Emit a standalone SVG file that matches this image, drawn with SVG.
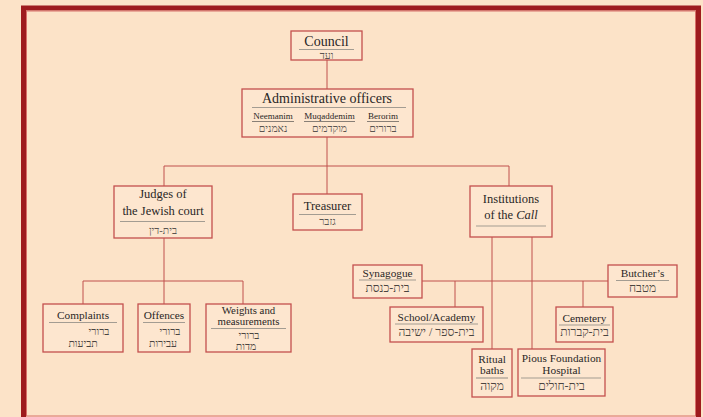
<svg xmlns="http://www.w3.org/2000/svg" width="703" height="417" viewBox="0 0 703 417">
<style>
.box{fill:#fde6cf;stroke:#c4504e;stroke-width:1.3}
.sep{stroke:#a39c92;stroke-width:1.2}
.ul{stroke:#6a6460;stroke-width:0.8}
.con{stroke:#c0504d;stroke-width:1;fill:none}
text{font-family:"Liberation Serif","Times New Roman",serif;fill:#2a2626;text-anchor:middle}
.t14{font-size:14px}
.t12{font-size:12.5px}
.t11{font-size:11.3px}
.t10{font-size:10.8px}
.t9{font-size:9px}
.he{font-family:"Liberation Serif","DejaVu Sans",serif;fill:#5a5450;font-size:10.5px}
.he11{font-family:"Liberation Serif","DejaVu Sans",serif;fill:#4a4440;font-size:12px}
.he2{font-family:"Liberation Serif","DejaVu Sans",serif;fill:#4a4440;font-size:10.5px}
</style>
<rect x="0" y="0" width="703" height="417" fill="#fce3c8"/>
<rect x="23.5" y="8" width="675" height="420" fill="none" stroke="#9e1b1e" stroke-width="5"/>
<rect x="26.5" y="11" width="669" height="405" fill="none" stroke="#d8706a" stroke-width="1"/>

<g id="connectors">
<line class="con" x1="327" y1="60" x2="327" y2="89"/>
<line class="con" x1="327" y1="137" x2="327" y2="194"/>
<polyline class="con" points="164,186 164,166 509,166 509,186"/>
<line class="con" x1="164" y1="238" x2="164" y2="304"/>
<polyline class="con" points="83,304 83,281 243,281 243,304"/>
<line class="con" x1="492" y1="237" x2="492" y2="349"/>
<line class="con" x1="532" y1="237" x2="532" y2="349"/>
<line class="con" x1="422" y1="281" x2="608" y2="281"/>
<line class="con" x1="455" y1="281" x2="455" y2="307"/>
<line class="con" x1="583" y1="281" x2="583" y2="307"/>
</g>

<g id="council">
<rect class="box" x="291" y="31" width="71" height="29"/>
<text class="t14" x="326.5" y="46">Council</text>
<line class="sep" x1="299" y1="49.5" x2="354" y2="49.5"/>
<text class="he" x="326.5" y="58.5">ועד</text>
</g>

<g id="admin">
<rect class="box" x="242" y="89" width="171" height="48"/>
<text class="t14" x="327" y="103">Administrative officers</text>
<line class="sep" x1="252" y1="107.5" x2="406" y2="107.5"/>
<text class="t9" x="273" y="119">Neemanim</text>
<text class="t9" x="329.5" y="119">Muqaddemim</text>
<text class="t9" x="383" y="119">Berorim</text>
<line class="ul" x1="252" y1="121.5" x2="294" y2="121.5"/>
<line class="ul" x1="304" y1="121.5" x2="355" y2="121.5"/>
<line class="ul" x1="367" y1="121.5" x2="399" y2="121.5"/>
<text class="he" x="273" y="131.5">נאמנים</text>
<text class="he" x="329.5" y="131.5">מוקדמים</text>
<text class="he" x="383" y="131.5">ברורים</text>
</g>

<g id="judges">
<rect class="box" x="114" y="186" width="98" height="52"/>
<text class="t12" x="163" y="198">Judges of</text>
<text class="t12" x="163" y="215">the Jewish court</text>
<line class="sep" x1="120" y1="221.5" x2="205" y2="221.5"/>
<text class="he" x="163" y="233.5">בית-דין</text>
</g>

<g id="treasurer">
<rect class="box" x="293" y="194" width="69" height="36"/>
<text class="t12" x="327.5" y="210">Treasurer</text>
<line class="sep" x1="299" y1="214.5" x2="356" y2="214.5"/>
<text class="he" x="327.5" y="225">גזבר</text>
</g>

<g id="institutions">
<rect class="box" x="470" y="186" width="82" height="51"/>
<text class="t12" x="511" y="203">Institutions</text>
<text class="t12" x="511" y="219">of the <tspan font-style="italic">Call</tspan></text>
<line class="sep" x1="476" y1="226" x2="546" y2="226"/>
</g>

<g id="complaints">
<rect class="box" x="43" y="304" width="80" height="48"/>
<text class="t11" x="83" y="319">Complaints</text>
<line class="sep" x1="49" y1="322.5" x2="117" y2="322.5"/>
<text class="he2" x="99" y="334.5">ברורי</text>
<text class="he2" x="83" y="347">תביעות</text>
</g>

<g id="offences">
<rect class="box" x="138" y="304" width="52" height="48"/>
<text class="t11" x="164" y="319">Offences</text>
<line class="sep" x1="143" y1="322.5" x2="185" y2="322.5"/>
<text class="he2" x="170" y="334.5">ברורי</text>
<text class="he2" x="163" y="347">עבירות</text>
</g>

<g id="weights">
<rect class="box" x="206" y="304" width="85" height="48"/>
<text class="t10" x="248.5" y="314">Weights and</text>
<text class="t10" x="248.5" y="325">measurements</text>
<line class="sep" x1="211" y1="328.5" x2="286" y2="328.5"/>
<text class="he2" x="249" y="338.5">ברורי</text>
<text class="he2" x="246" y="350">מדות</text>
</g>

<g id="synagogue">
<rect class="box" x="353" y="265" width="69" height="33"/>
<text class="t11" x="387.5" y="277">Synagogue</text>
<line class="sep" x1="359" y1="280" x2="416" y2="280"/>
<text class="he11" x="387.5" y="291.5">בית-כנסת</text>
</g>

<g id="school">
<rect class="box" x="390" y="307" width="93" height="35"/>
<text class="t11" x="436.5" y="321">School/Academy</text>
<line class="sep" x1="395" y1="324" x2="478" y2="324"/>
<text class="he11" x="436.5" y="336">בית-ספר / ישיבה</text>
</g>

<g id="ritual">
<rect class="box" x="472" y="349" width="40" height="48"/>
<text class="t11" x="492" y="363">Ritual</text>
<text class="t11" x="492" y="374">baths</text>
<line class="sep" x1="476" y1="378" x2="508" y2="378"/>
<text class="he11" x="492" y="389.5">מקוה</text>
</g>

<g id="pious">
<rect class="box" x="518" y="349" width="87" height="47"/>
<text class="t11" x="561.5" y="362">Pious Foundation</text>
<text class="t11" x="561.5" y="373.5">Hospital</text>
<line class="sep" x1="521" y1="378" x2="601" y2="378"/>
<text class="he11" x="561.5" y="389.5">בית-חולים</text>
</g>

<g id="cemetery">
<rect class="box" x="556" y="307" width="57" height="35"/>
<text class="t11" x="584.5" y="322">Cemetery</text>
<line class="sep" x1="559" y1="325" x2="610" y2="325"/>
<text class="he11" x="584.5" y="336">בית-קברות</text>
</g>

<g id="butchers">
<rect class="box" x="608" y="265" width="69" height="32"/>
<text class="t11" x="642.5" y="277">Butcher’s</text>
<line class="sep" x1="616" y1="280.5" x2="669" y2="280.5"/>
<text class="he11" x="642.5" y="291.5">מטבח</text>
</g>
</svg>
